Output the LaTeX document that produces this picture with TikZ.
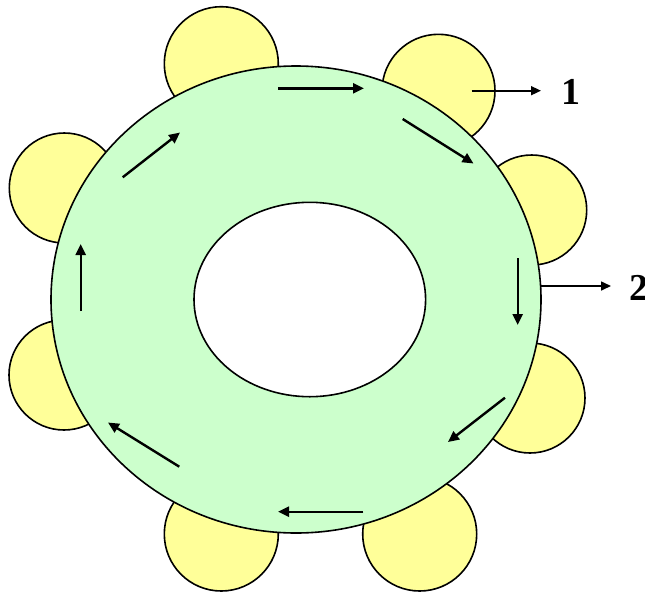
\documentclass[tikz,border=0pt]{standalone}
\usepackage{fontspec}
\setmainfont{Liberation Serif}
\usetikzlibrary{arrows.meta}
\definecolor{lobe}{HTML}{FFFF99}
\definecolor{ring}{HTML}{CCFFCC}
\tikzset{
  lobecirc/.style={circle, draw=black, fill=lobe, line width=1.6pt, inner sep=0pt, minimum size=#1},
  flow/.style={line width=2.4pt, -{Triangle[length=11pt,width=10pt]}},
  pointer/.style={line width=1.6pt, -{Triangle[length=10pt,width=9pt]}},
  numlabel/.style={font=\bfseries\fontsize{38}{40}\selectfont, inner sep=0pt}
}
\begin{document}
\begin{tikzpicture}[x=1pt,y=-1pt]
\useasboundingbox (0,0) rectangle (645,592);
% yellow lobes
\node[lobecirc=114pt] (l1) at (221.3,63.7) {};
\node[lobecirc=113pt] (l2) at (438.5,90.8) {};
\node[lobecirc=110pt] (l3) at (531.7,210) {};
\node[lobecirc=110pt] (l4) at (530,398) {};
\node[lobecirc=114pt] (l5) at (419.7,534) {};
\node[lobecirc=114pt] (l6) at (221.3,534) {};
\node[lobecirc=110pt] (l7) at (64.3,188) {};
\node[lobecirc=110pt] (l8) at (64,375) {};
% green ring
\draw[line width=1.6pt, fill=ring] (296,299.5) ellipse [x radius=245, y radius=233.5];
\draw[line width=1.6pt, fill=white] (309.8,299.5) ellipse [x radius=115.8, y radius=97.2];
% flow arrows
\coordinate (a1s) at (278.3,88.3);  \coordinate (a1e) at (364,88.3);
\coordinate (a2s) at (402.7,119);   \coordinate (a2e) at (473.5,163.5);
\coordinate (a3s) at (517.7,258.3); \coordinate (a3e) at (517.7,325);
\coordinate (a4s) at (505,397.7);   \coordinate (a4e) at (448,442);
\coordinate (a5s) at (363.3,511.7); \coordinate (a5e) at (278,511.7);
\coordinate (a6s) at (179.3,466.7); \coordinate (a6e) at (108,422.5);
\coordinate (a7s) at (80.7,311);    \coordinate (a7e) at (80.7,244);
\coordinate (a8s) at (122.7,177.3); \coordinate (a8e) at (180,132.5);
\foreach \i in {1,...,8} {\draw[flow] (a\i s) -- (a\i e);}
% labels
\coordinate (p1s) at (471.7,90.7);
\coordinate (p1e) at (541,90.7);
\coordinate (p2s) at (541,286);
\coordinate (p2e) at (611,286);
\node[numlabel, anchor=base] (t1) at (570.5,104.3) {1};
\node[numlabel, anchor=base west] (t2) at (629,300) {2};
\draw[pointer] (p1s) -- (p1e);
\draw[pointer] (p2s) -- (p2e);
\end{tikzpicture}
\end{document}
